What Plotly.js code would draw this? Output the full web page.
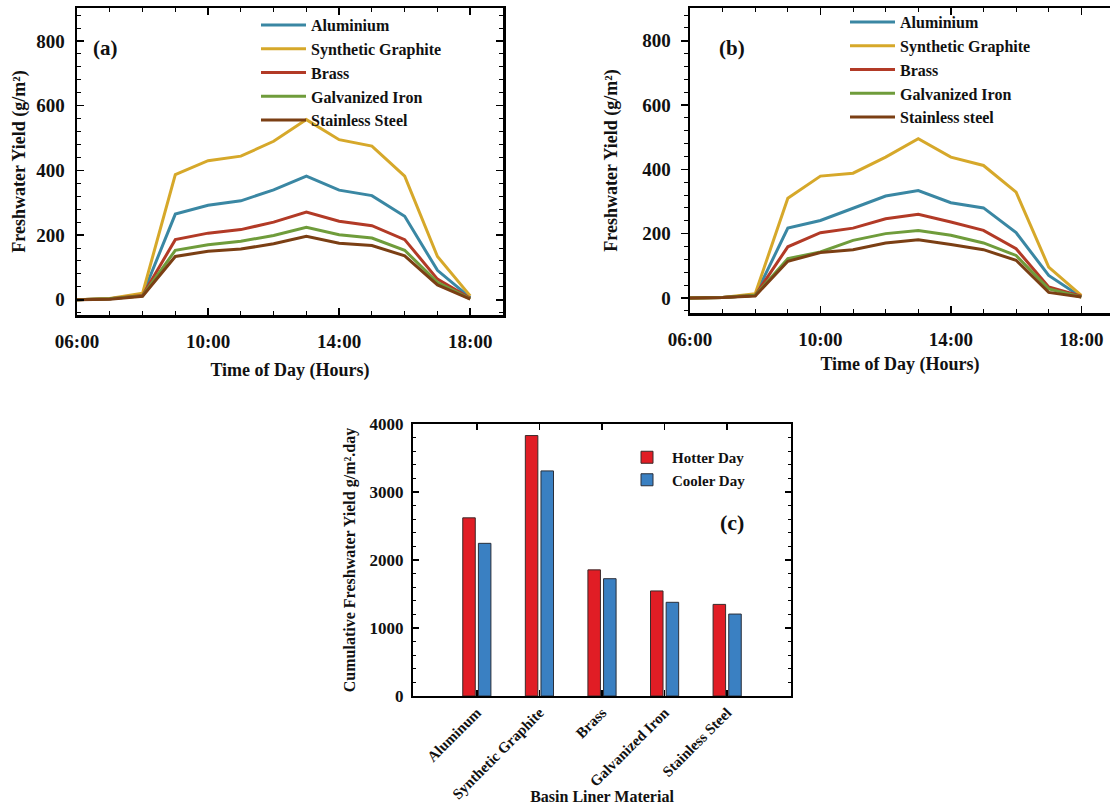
<!DOCTYPE html>
<html>
<head>
<meta charset="utf-8">
<script src="https://cdn.plot.ly/plotly-3.0.1.min.js"></script>
<style>html,body{margin:0;padding:0;background:#fff;}#chart{width:1110px;height:805px;}</style>
</head>
<body>
<div id="chart"></div>
<script>
// ---------- data ----------
const hours = [6, 7, 8, 9, 10, 11, 12, 13, 14, 15, 16, 17, 18];
const hourTickVals = [6, 10, 14, 18];
const hourTickText = ['06:00', '10:00', '14:00', '18:00'];

// (a) hotter day, g/m2 per hour
const aluminiumA = [0, 3, 15, 265, 292, 306, 340, 382, 339, 322, 258, 91, 7];
const graphiteA  = [0, 4, 20, 387, 430, 444, 490, 557, 495, 475, 382, 134, 12];
const brassA     = [0, 3, 13, 186, 206, 217, 240, 271, 243, 229, 186, 64, 5];
const galvA      = [0, 3, 12, 153, 170, 181, 199, 224, 201, 191, 153, 54, 3];
const stainlessA = [0, 2, 11, 134, 150, 157, 173, 196, 175, 168, 136, 46, 2];

// (b) cooler day
const aluminiumB = [0, 1, 8, 217, 241, 280, 317, 334, 296, 280, 203, 70, 3];
const graphiteB  = [0, 1, 13, 310, 379, 388, 438, 495, 438, 412, 329, 96, 8];
const brassB     = [0, 1, 8, 159, 203, 217, 246, 260, 236, 210, 153, 34, 5];
const galvB      = [0, 1, 8, 122, 143, 179, 200, 210, 195, 171, 132, 28, 3];
const stainlessB = [0, 1, 6, 114, 141, 150, 171, 181, 166, 150, 117, 17, 3];

const namesA = ['Aluminium', 'Synthetic Graphite', 'Brass', 'Galvanized Iron', 'Stainless Steel'];
const namesB = ['Aluminium', 'Synthetic Graphite', 'Brass', 'Galvanized Iron', 'Stainless steel'];

// (c) cumulative yield
const materials = ['Aluminum', 'Synthetic Graphite', 'Brass', 'Galvanized Iron', 'Stainless Steel'];
const hotterDay = [2620, 3830, 1855, 1545, 1347];
const coolerDay = [2245, 3310, 1725, 1378, 1205];

// ---------- styles ----------
const lineColors = ['#3a87a3', '#d6a82a', '#b23a26', '#6f9c3b', '#7b3f14'];
const FONT = 'Liberation Serif, Times New Roman, serif';
const W = 1110, H = 805;
const px = v => v / W;
const py = v => 1 - v / H;

const traces = [];
const seriesA = [aluminiumA, graphiteA, brassA, galvA, stainlessA];
const seriesB = [aluminiumB, graphiteB, brassB, galvB, stainlessB];
seriesA.forEach((ys, i) => traces.push({
  type: 'scatter', mode: 'lines', x: hours, y: ys, name: namesA[i],
  xaxis: 'x', yaxis: 'y', legend: 'legend',
  line: {color: lineColors[i], width: 3}
}));
seriesB.forEach((ys, i) => traces.push({
  type: 'scatter', mode: 'lines', x: hours, y: ys, name: namesB[i],
  xaxis: 'x2', yaxis: 'y2', legend: 'legend2',
  line: {color: lineColors[i], width: 3}
}));
traces.push({
  type: 'bar', x: materials, y: hotterDay, name: 'Hotter Day',
  xaxis: 'x3', yaxis: 'y3', legend: 'legend3',
  marker: {color: '#e11d25', line: {color: '#3a2a2a', width: 1}}
});
traces.push({
  type: 'bar', x: materials, y: coolerDay, name: 'Cooler Day',
  xaxis: 'x3', yaxis: 'y3', legend: 'legend3',
  marker: {color: '#3a80c2', line: {color: '#2a2f3a', width: 1}}
});

const tickFont = {family: FONT, size: 19, color: '#111', weight: 'bold'};
const titleFont = {family: FONT, size: 18, color: '#111', weight: 'bold'};
const legFont = {family: FONT, size: 16, color: '#111', weight: 'bold'};

function timeAxis(domain, range, standoff) {
  return {
    domain: domain, range: range, showgrid: false, zeroline: false,
    showline: true, linecolor: '#000', linewidth: 2.5, mirror: 'ticks',
    tickmode: 'array', tickvals: hourTickVals, ticktext: hourTickText,
    ticks: 'inside', ticklen: 7, tickwidth: 1.5, tickcolor: '#000',
    minor: {ticks: 'inside', dtick: 1, tick0: 6, ticklen: 4, tickwidth: 1, tickcolor: '#000'},
    tickfont: tickFont, ticklabelstandoff: 8,
    title: {text: 'Time of Day (Hours)', font: titleFont, standoff: standoff}
  };
}
function yieldAxis(domain, ticksSide, standoff) {
  return {
    domain: domain, range: [-47, 902], showgrid: false, zeroline: false,
    showline: true, linecolor: '#000', linewidth: 2.5, mirror: 'ticks',
    tickmode: 'linear', tick0: 0, dtick: 200,
    ticks: ticksSide, ticklen: 7, tickwidth: 1.5, tickcolor: '#000',
    minor: {ticks: ticksSide, dtick: 40, ticklen: 4, tickwidth: 1, tickcolor: '#000'},
    tickfont: tickFont, ticklabelstandoff: 6,
    title: {text: 'Freshwater Yield (g/m\u00b2)', font: titleFont, standoff: standoff}
  };
}

const layout = {
  width: W, height: H,
  margin: {l: 0, r: 0, t: 0, b: 0},
  paper_bgcolor: '#fff', plot_bgcolor: '#fff',
  font: {family: FONT, color: '#111'},
  barmode: 'group', bargap: 0.5, bargroupgap: 0.2,
  xaxis: Object.assign(timeAxis([px(77), px(503)], [6, 19], 12), {anchor: 'y'}),
  yaxis: Object.assign(yieldAxis([py(315), py(8)], 'inside', 6), {anchor: 'x'}),
  xaxis2: Object.assign(timeAxis([px(690), px(1110)], [6, 18.88], 8), {anchor: 'y2'}),
  yaxis2: Object.assign(yieldAxis([py(313), py(8)], 'outside', 20), {anchor: 'x2'}),
  xaxis3: {
    anchor: 'y3', domain: [px(413), px(791)], type: 'category', range: [-1.02, 5.02],
    showgrid: false, zeroline: false, showline: true, linecolor: '#000', linewidth: 2, mirror: 'ticks',
    ticks: 'inside', ticklen: 6, tickwidth: 1.5, tickcolor: '#000',
    tickangle: -45, tickfont: {family: FONT, size: 15, color: '#111', weight: 'bold'},
    title: {text: 'Basin Liner Material', font: {family: FONT, size: 16, color: '#111', weight: 'bold'}, standoff: 0}
  },
  yaxis3: {
    anchor: 'x3', domain: [py(696), py(424)], range: [0, 4000],
    showgrid: false, zeroline: false, showline: true, linecolor: '#000', linewidth: 2, mirror: 'ticks',
    tickmode: 'linear', tick0: 0, dtick: 1000,
    ticks: 'inside', ticklen: 6, tickwidth: 1.5, tickcolor: '#000',
    minor: {ticks: 'inside', dtick: 200, ticklen: 3, tickwidth: 1, tickcolor: '#000'},
    tickfont: {family: FONT, size: 17, color: '#111', weight: 'bold'}, ticklabelstandoff: 4,
    title: {text: 'Cumulative Freshwater Yield g/m\u00b2.day', font: {family: FONT, size: 16, color: '#111', weight: 'bold'}, standoff: 10}
  },
  legend: {x: px(256), y: py(8), xanchor: 'left', yanchor: 'top', bgcolor: 'rgba(0,0,0,0)',
           font: legFont, itemwidth: 45, tracegroupgap: 0},
  legend2: {x: px(845), y: py(5), xanchor: 'left', yanchor: 'top', bgcolor: 'rgba(0,0,0,0)',
            font: legFont, itemwidth: 45, tracegroupgap: 0},
  legend3: {x: px(622), y: py(441), xanchor: 'left', yanchor: 'top', bgcolor: 'rgba(0,0,0,0)',
            font: {family: FONT, size: 15, color: '#111', weight: 'bold'}, itemwidth: 40, tracegroupgap: 0},
  annotations: [
    {xref: 'paper', yref: 'paper', x: px(105), y: py(48), xanchor: 'center', yanchor: 'middle',
     text: '(a)', showarrow: false, font: {family: FONT, size: 21, color: '#111', weight: 'bold'}},
    {xref: 'paper', yref: 'paper', x: px(732), y: py(48), xanchor: 'center', yanchor: 'middle',
     text: '(b)', showarrow: false, font: {family: FONT, size: 21, color: '#111', weight: 'bold'}},
    {xref: 'paper', yref: 'paper', x: px(732), y: py(522), xanchor: 'center', yanchor: 'middle',
     text: '(c)', showarrow: false, font: {family: FONT, size: 22, color: '#111', weight: 'bold'}}
  ]
};

Plotly.newPlot('chart', traces, layout, {displayModeBar: false, staticPlot: true});
</script>
</body>
</html>
